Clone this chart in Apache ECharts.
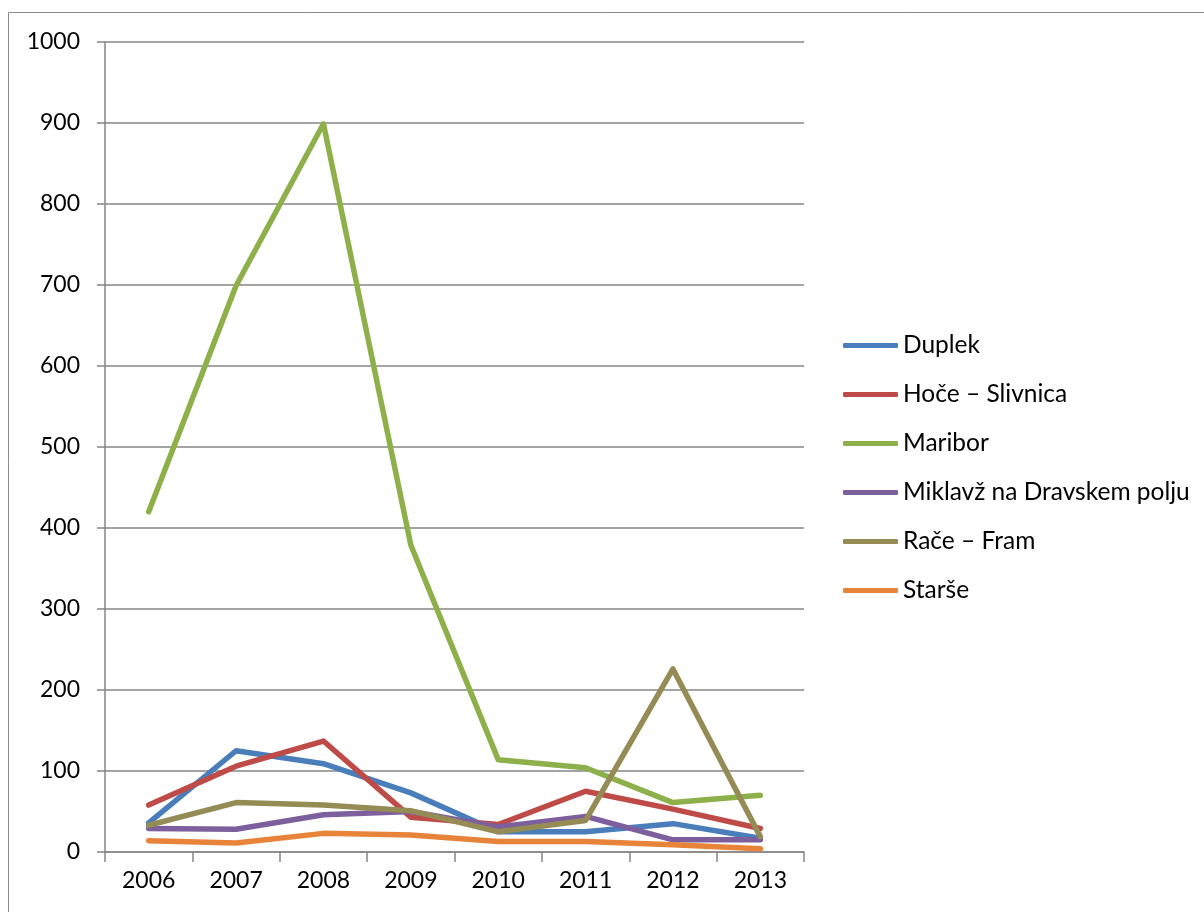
<!DOCTYPE html>
<html>
<head>
<meta charset="utf-8">
<script src="https://cdn.jsdelivr.net/npm/echarts@6/dist/echarts.min.js"></script>
<style>
html,body{margin:0;padding:0;background:#fff;}
#chart{width:1204px;height:912px;}
</style>
</head>
<body>
<div id="chart"></div>
<script>
var years = ['2006','2007','2008','2009','2010','2011','2012','2013'];
var seriesNames = ['Duplek','Hoče – Slivnica','Maribor','Miklavž na Dravskem polju','Rače – Fram','Starše'];
var duplek = [36, 125, 109, 73, 25, 25, 35, 17];
var hoce = [58, 106, 137, 43, 34, 75, 53, 29];
var maribor = [420, 699, 899, 379, 114, 104, 61, 70];
var miklavz = [29, 28, 46, 50, 31, 44, 15, 15];
var race = [33, 61, 58, 51, 25, 39, 226, 19];
var starse = [14, 11, 23, 21, 13, 13, 9, 4];
var yTicks = [0, 100, 200, 300, 400, 500, 600, 700, 800, 900, 1000];

var colors = ['#4A7EBB', '#BE4B48', '#8DB04A', '#7D5F9E', '#958B55', '#E8833A'];
var allData = [duplek, hoce, maribor, miklavz, race, starse];

var chart = echarts.init(document.getElementById('chart'));
var font = 'Lato, "Open Sans", sans-serif';
chart.setOption({
  animation: false,
  backgroundColor: '#fff',
  graphic: [{
    type: 'rect',
    shape: {x: 8.5, y: 12.5, width: 1400, height: 1200},
    style: {fill: 'none', stroke: '#8a8a8a', lineWidth: 1},
    silent: true
  }],
  grid: {left: 105, right: 400, top: 42, bottom: 60, containLabel: false},
  legend: {
    orient: 'vertical',
    left: 843,
    top: 333,
    padding: 0,
    itemWidth: 55,
    itemHeight: 5,
    itemGap: 24,
    icon: 'roundRect',
    textStyle: {fontFamily: font, fontSize: 24.5, color: '#000', lineHeight: 24},
    data: seriesNames
  },
  xAxis: {
    type: 'category',
    data: years,
    boundaryGap: true,
    axisLine: {lineStyle: {color: '#868686', width: 1.5}},
    axisTick: {show: true, length: 10, lineStyle: {color: '#868686', width: 1.5}},
    axisLabel: {fontFamily: font, fontSize: 23, color: '#000', margin: 17},
    splitLine: {show: false}
  },
  yAxis: {
    type: 'value',
    min: yTicks[0],
    max: yTicks[yTicks.length - 1],
    interval: 100,
    axisLine: {show: true, lineStyle: {color: '#868686', width: 1.5}},
    axisTick: {show: true, length: 8, lineStyle: {color: '#868686', width: 1.5}},
    axisLabel: {fontFamily: font, fontSize: 23, color: '#000', margin: 25, formatter: function (v) { return String(v); }},
    splitLine: {show: true, lineStyle: {color: '#868686', width: 1.5}}
  },
  series: seriesNames.map(function (n, i) {
    return {
      name: n,
      type: 'line',
      data: allData[i],
      showSymbol: false,
      symbol: 'none',
      color: colors[i],
      lineStyle: {width: 5.5, color: colors[i], cap: 'round', join: 'round'}
    };
  })
});
</script>
</body>
</html>
